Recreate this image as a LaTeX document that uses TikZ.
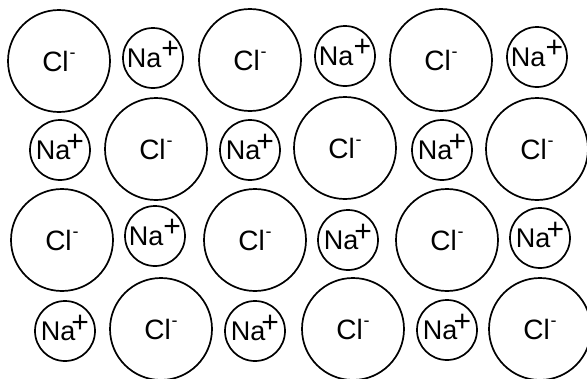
\documentclass[tikz,border=0pt]{standalone}
\usepackage{fontspec}
\setmainfont{Liberation Sans}
\newcommand\clion{\makebox[0pt]{\fontsize{28}{28}\selectfont Cl\kern1pt\smash{\raisebox{13pt}{\fontsize{18}{18}\selectfont -}}}}
\newcommand\naionA{\makebox[0pt]{\fontsize{27}{27}\selectfont Na\kern0pt\smash{\raisebox{9pt}{\fontsize{30}{30}\selectfont +}}}}
\newcommand\naionB{\makebox[0pt]{\fontsize{27}{27}\selectfont Na\kern-4pt\smash{\raisebox{8pt}{\fontsize{30}{30}\selectfont +}}}}
\tikzset{
  ion/.style={circle, draw=black, line width=1.7pt, inner sep=0pt},
  cl/.style={ion, minimum size=102pt},
  na/.style={ion, minimum size=60pt},
}
\begin{document}
\begin{tikzpicture}[x=1pt,y=-1pt]
\useasboundingbox (0,0) rectangle (587,378);
% row 1
\node[cl] (cl11) at (59,61) {\clion};
\node[na] (na11) at (153,58) {\naionA};
\node[cl] (cl12) at (250,60) {\clion};
\node[na] (na12) at (345,56) {\naionA};
\node[cl] (cl13) at (441,60) {\clion};
\node[na] (na13) at (537,57) {\naionA};
% row 2
\node[na] (na21) at (60,150) {\naionB};
\node[cl] (cl21) at (156,149) {\clion};
\node[na] (na22) at (250,150) {\naionB};
\node[cl] (cl22) at (345,148) {\clion};
\node[na] (na23) at (442,150) {\naionB};
\node[cl] (cl23) at (537,149) {\clion};
% row 3
\node[cl] (cl31) at (62,240) {\clion};
\node[na] (na31) at (155,236) {\naionA};
\node[cl] (cl32) at (255,240) {\clion};
\node[na] (na32) at (348,240) {\naionB};
\node[cl] (cl33) at (447,240) {\clion};
\node[na] (na33) at (540,238) {\naionB};
% row 4
\node[na] (na41) at (65,331) {\naionB};
\node[cl] (cl41) at (161,329) {\clion};
\node[na] (na42) at (255,331) {\naionB};
\node[cl] (cl42) at (353,329) {\clion};
\node[na] (na43) at (447,330) {\naionB};
\node[cl] (cl43) at (540,329) {\clion};
\end{tikzpicture}
\end{document}
